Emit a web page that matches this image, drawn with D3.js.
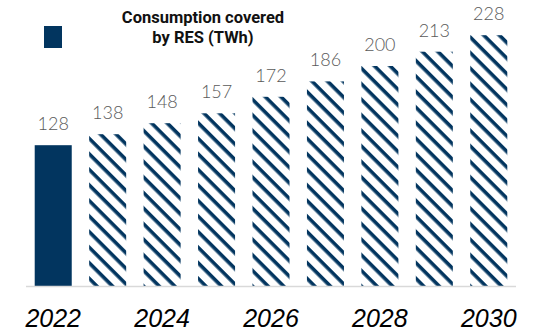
<!DOCTYPE html>
<html>
<head>
<meta charset="utf-8">
<script src="https://cdn.jsdelivr.net/npm/d3@7"></script>
<style>
  body { margin: 0; background: #fff; }
  svg { display: block; }
</style>
</head>
<body>
<div id="chart"></div>
<script>
// data
const years = ['2022', '2023', '2024', '2025', '2026', '2027', '2028', '2029', '2030'];
const values = [128, 138, 148, 157, 172, 186, 200, 213, 228];
const tickYears = ['2022', '2024', '2026', '2028', '2030'];
const legendLines = ['Consumption covered', 'by RES (TWh)'];

const width = 540;
const height = 333;
const navy = '#02355f';

const svg = d3.select('#chart')
  .append('svg')
  .attr('width', width)
  .attr('height', height);

// hatch pattern for the forecast years
const defs = svg.append('defs');
const hatch = defs.append('pattern')
  .attr('id', 'hatch')
  .attr('patternUnits', 'userSpaceOnUse')
  .attr('width', 11)
  .attr('height', 11)
  .attr('patternTransform', 'rotate(45)');
hatch.append('rect')
  .attr('width', 11)
  .attr('height', 11)
  .attr('fill', '#fff');
hatch.append('rect')
  .attr('width', 11)
  .attr('height', 3.6)
  .attr('fill', navy);

let x = d3.scaleBand()
  .domain(years)
  .range([26, 516])
  .paddingInner(0.32)
  .paddingOuter(0.16);

let y = d3.scaleLinear()
  .domain([0, 260])
  .range([286, 0]);

// bars
svg.selectAll('.bar')
  .data(values)
  .enter().append('rect')
  .attr('class', 'bar')
  .attr('x', (d, i) => x(years[i]))
  .attr('width', x.bandwidth())
  .attr('y', d => y(d))
  .attr('height', d => y(0) - y(d))
  .attr('fill', (d, i) => i === 0 ? navy : 'url(#hatch)');

// value labels
svg.selectAll('.val')
  .data(values)
  .enter().append('text')
  .attr('class', 'val')
  .attr('x', (d, i) => x(years[i]) + x.bandwidth() / 2)
  .attr('y', d => y(d) - 15)
  .attr('text-anchor', 'middle')
  .style('font-family', 'Lato, sans-serif')
  .style('font-weight', 300)
  .style('font-size', '18px')
  .attr('fill', '#5a5a5a')
  .text(d => d);

// x axis line
svg.append('line')
  .attr('x1', x.range()[0])
  .attr('x2', x.range()[1])
  .attr('y1', y(0) + 0.5)
  .attr('y2', y(0) + 0.5)
  .attr('stroke', '#d9d9d9')
  .attr('stroke-width', 1.5);

// year labels, every other year
svg.selectAll('.year')
  .data(tickYears)
  .enter().append('text')
  .attr('class', 'year')
  .attr('x', d => x(d) + x.bandwidth() / 2)
  .attr('y', 327)
  .attr('text-anchor', 'middle')
  .style('font-family', '"Liberation Sans", Arial, sans-serif')
  .style('font-style', 'italic')
  .style('font-size', '25px')
  .attr('fill', '#000')
  .text(d => d);

// legend
svg.append('rect')
  .attr('x', 44)
  .attr('y', 26)
  .attr('width', 18)
  .attr('height', 22)
  .attr('fill', navy);

svg.selectAll('.legend')
  .data(legendLines)
  .enter().append('text')
  .attr('class', 'legend')
  .attr('x', 203)
  .attr('y', (d, i) => 23 + i * 20)
  .attr('text-anchor', 'middle')
  .style('font-family', 'Roboto, sans-serif')
  .style('font-weight', 700)
  .style('font-size', '16.5px')
  .attr('fill', '#111')
  .text(d => d);
</script>
</body>
</html>
